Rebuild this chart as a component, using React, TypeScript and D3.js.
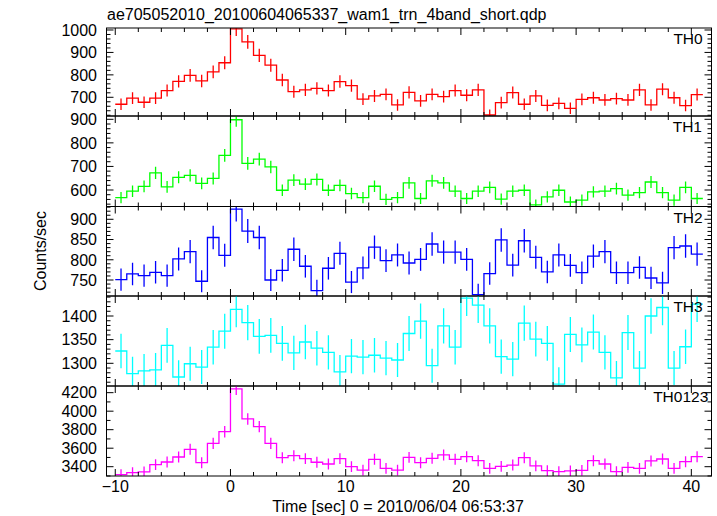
import React from 'react';
import * as d3 from 'd3';

// Light-curve bins: start time of first bin [s] and bin width [s]
const timeStart = -10;
const binWidth = 1;

const panelNames = ['TH0', 'TH1', 'TH2', 'TH3', 'TH0123'];
const panelColors = ['#ff0000', '#00ff00', '#0000ff', '#00ffff', '#ff00ff'];

// count rates [counts/sec], one value per 1-s bin from -10 s to 41 s
const th0 = [669, 696, 678, 696, 730, 771, 798, 773, 813, 854, 1005, 947, 887, 843, 777, 725, 733, 740, 730, 770, 752,
  692, 706, 713, 666, 722, 684, 713, 703, 730, 709, 733, 621, 676, 721, 669, 706, 664, 673, 651, 691, 698, 688, 694,
  688, 733, 666, 736, 698, 663, 712];
const th1 = [568, 595, 615, 673, 613, 654, 662, 628, 649, 747, 898, 713, 731, 698, 599, 642, 625, 645, 599, 620, 585,
  568, 616, 560, 568, 630, 564, 639, 630, 595, 564, 595, 611, 561, 595, 599, 537, 571, 599, 549, 557, 592, 595, 606,
  578, 589, 634, 589, 557, 611, 564];
const th2 = [751, 765, 761, 769, 761, 802, 820, 747, 855, 811, 925, 871, 855, 750, 774, 826, 784, 724, 779, 816, 745,
  780, 831, 798, 812, 792, 801, 839, 819, 819, 801, 714, 766, 849, 787, 847, 806, 770, 812, 786, 768, 809, 820, 768,
  768, 781, 755, 743, 830, 834, 814];
const th3 = [1326, 1278, 1284, 1286, 1338, 1271, 1299, 1292, 1334, 1368, 1414, 1386, 1357, 1359, 1342, 1322, 1345,
  1332, 1323, 1282, 1315, 1313, 1317, 1311, 1307, 1363, 1389, 1295, 1379, 1334, 1438, 1423, 1379, 1314, 1309, 1385,
  1351, 1342, 1256, 1361, 1339, 1366, 1323, 1269, 1365, 1290, 1400, 1418, 1290, 1335, 1425];
const th0123 = [3314, 3335, 3343, 3422, 3451, 3505, 3588, 3443, 3653, 3778, 4240, 3916, 3833, 3653, 3497, 3519, 3487,
  3448, 3429, 3487, 3400, 3364, 3480, 3382, 3364, 3501, 3443, 3491, 3527, 3480, 3508, 3465, 3382, 3404, 3418, 3497,
  3408, 3357, 3346, 3354, 3361, 3465, 3429, 3346, 3393, 3382, 3462, 3483, 3382, 3454, 3508];

const seriesValues = [th0, th1, th2, th3, th0123];

// axis settings
const xDomain = [-10.76, 41.75];
const xTickLabels = [-10, 0, 10, 20, 30, 40];
const yDomains = [[616.6, 1008.9], [530, 914], [710.5, 931.6], [1252, 1442.3], [3299.5, 4272]];
const yMajorTicks = [[700, 800, 900, 1000], [600, 700, 800, 900], [750, 800, 850, 900], [1300, 1350, 1400],
  [3400, 3600, 3800, 4000, 4200]];
const yMinorSteps = [20, 20, 10, 10, 100];

const title = 'ae705052010_20100604065337_wam1_trn_4band_short.qdp';
const xLabel = 'Time [sec] 0 = 2010/06/04 06:53:37';
const yLabel = 'Counts/sec';

const W = 717;
const H = 516;
const left = 106.5;
const right = 711.5;
const panelEdges = [28, 116, 206.5, 296, 386, 476];
const labelRight = [702.7, 702, 702.7, 702.7, 708.3];
const font = '"Liberation Sans", Arial, Helvetica, sans-serif';

export default function App() {
  const x = d3.scaleLinear().domain(xDomain).range([left, right]);
  const xMinor = d3.range(-10, 42, 2).filter((t) => t >= xDomain[0] && t <= xDomain[1]);

  return (
    <svg width={W} height={H} style={{ position: 'absolute', left: 0, top: 0, background: '#fff' }}
      fontFamily={font}>
      <rect x={0} y={0} width={W} height={H} fill="#fff" />
      <text x={107} y={19.5} fontSize={16} fill="#000">{title}</text>
      {seriesValues.map((vals, p) => {
        const top = panelEdges[p];
        const bottom = panelEdges[p + 1];
        const y = d3.scaleLinear().domain(yDomains[p]).range([bottom, top]);
        const [y0, y1] = yDomains[p];
        const minor = d3.range(Math.ceil(y0 / yMinorSteps[p]) * yMinorSteps[p], y1, yMinorSteps[p]);
        const pts = vals.map((v, i) => ({ t0: timeStart + i * binWidth, t1: timeStart + (i + 1) * binWidth, v }));
        let path = '';
        pts.forEach((d, i) => {
          path += (i === 0 ? 'M' : 'L') + x(d.t0) + ',' + y(d.v) + 'L' + x(d.t1) + ',' + y(d.v);
        });
        const clipId = 'clip' + p;
        const color = panelColors[p];
        return (
          <g key={p}>
            <defs>
              <clipPath id={clipId}>
                <rect x={left} y={top} width={right - left} height={bottom - top} />
              </clipPath>
            </defs>
            <g clipPath={`url(#${clipId})`}>
              <path d={path} fill="none" stroke={color} strokeWidth={1.3} />
              {pts.map((d, i) => {
                const err = Math.sqrt(d.v * binWidth) / binWidth; // Poisson error of the rate
                const cx = x((d.t0 + d.t1) / 2);
                return (
                  <line key={i} x1={cx} x2={cx} y1={y(d.v - err)} y2={y(d.v + err)} stroke={color}
                    strokeWidth={1.3} />
                );
              })}
            </g>
            {/* x ticks (top and bottom, inward) */}
            {xMinor.map((t) => {
              const len = t % 10 === 0 ? 7 : 4;
              return (
                <g key={'xt' + t} stroke="#000" strokeWidth={1}>
                  <line x1={x(t)} x2={x(t)} y1={bottom} y2={bottom - len} />
                  <line x1={x(t)} x2={x(t)} y1={top} y2={top + len} />
                </g>
              );
            })}
            {/* y ticks (left and right, inward) */}
            {minor.map((v) => {
              const isMajor = yMajorTicks[p].includes(v);
              const len = isMajor ? 7 : 4;
              return (
                <g key={'yt' + v} stroke="#000" strokeWidth={1}>
                  <line x1={left} x2={left + len} y1={y(v)} y2={y(v)} />
                  <line x1={right} x2={right - len} y1={y(v)} y2={y(v)} />
                </g>
              );
            })}
            {yMajorTicks[p].map((v) => (
              <text key={'yl' + v} x={97} y={y(v)} dy="0.36em" textAnchor="end" fontSize={16} fill="#000">{v}</text>
            ))}
            <rect x={left} y={top} width={right - left} height={bottom - top} fill="none" stroke="#000"
              strokeWidth={1} />
            <text x={labelRight[p]} y={top + 16} textAnchor="end" fontSize={15.5} fill="#000">{panelNames[p]}</text>
          </g>
        );
      })}
      {xTickLabels.map((t) => (
        <text key={'xl' + t} x={x(t)} y={492} textAnchor="middle" fontSize={16} fill="#000">
          {t < 0 ? '\u2212' + Math.abs(t) : t}
        </text>
      ))}
      <text x={398} y={512} textAnchor="middle" fontSize={16} fill="#000">{xLabel}</text>
      <text transform="translate(46,251) rotate(-90)" textAnchor="middle" fontSize={16} fill="#000">{yLabel}</text>
    </svg>
  );
}
